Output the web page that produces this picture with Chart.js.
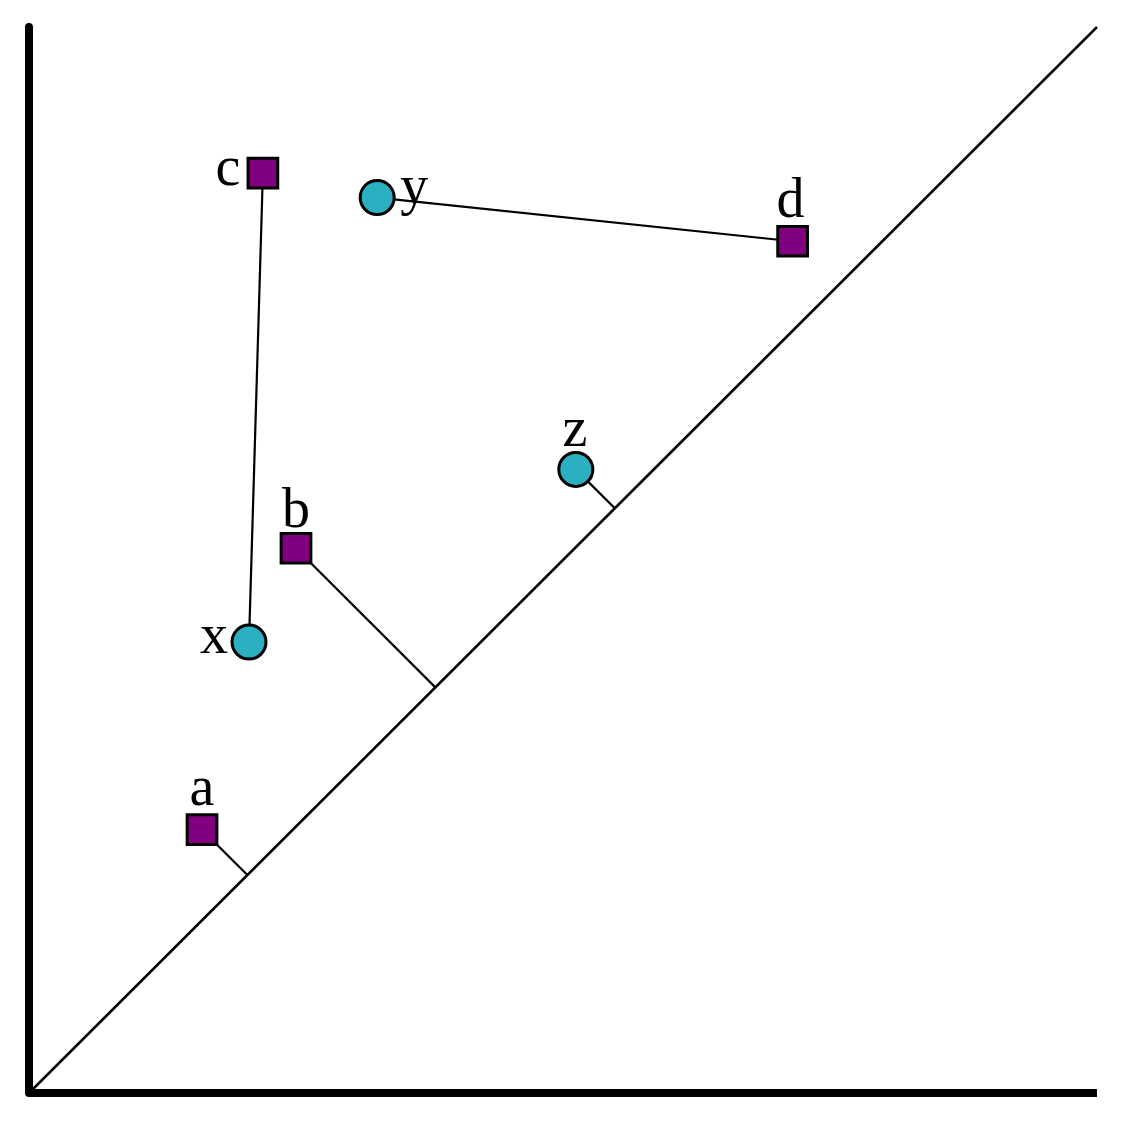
<!DOCTYPE html>
<html>
<head>
<meta charset="utf-8">
<script src="https://cdn.jsdelivr.net/npm/chart.js@4"></script>
<style>
  html, body { margin: 0; padding: 0; background: #fff; }
  #wrap { width: 1123px; height: 1122px; }
</style>
</head>
<body>
<div id="wrap"><canvas id="graph1"></canvas></div>
<script>
// points (data units 0..100 on both axes)
const squareNames = ['a', 'b', 'c', 'd'];
const squareX = [16.2, 25.0, 21.9, 71.5];
const squareY = [24.7, 51.1, 86.3, 79.9];

const circleNames = ['x', 'y', 'z'];
const circleX = [20.6, 32.6, 51.2];
const circleY = [42.3, 84.0, 58.5];

// diagonal y = x
const diagX = [0, 100];
const diagY = [0, 100];

// segments between points, and points dropped onto the diagonal
const links = [['c', 'x'], ['y', 'd']];
const projected = ['a', 'b', 'z'];

// label offsets in px (dx, baseline dy) -- style only
const labelOffset = {
    a: [0, -25], b: [0, -21], c: [-35, 12], d: [-2, -24],
    x: [-35, 11], y: [37, 6], z: [-1, -23]
};

const pts = {};
squareNames.forEach((n, i) => pts[n] = { x: squareX[i], y: squareY[i] });
circleNames.forEach((n, i) => pts[n] = { x: circleX[i], y: circleY[i] });

function foot(p) {
    const t = (p.x + p.y) / 2;
    return { x: t, y: t };
}

function segment(data, width) {
    return {
        type: 'line',
        data: data,
        borderColor: '#000',
        borderWidth: width,
        pointRadius: 0,
        fill: false,
        clip: false,
        order: 5
    };
}

const datasets = [];

// axes
datasets.push({
    type: 'line',
    data: [{ x: 0, y: 100 }, { x: 0, y: 0 }, { x: 100, y: 0 }],
    borderColor: '#000',
    borderWidth: 8,
    borderJoinStyle: 'round',
    pointRadius: 0,
    fill: false,
    clip: false,
    order: 10
});

datasets.push(segment(diagX.map((v, i) => ({ x: v, y: diagY[i] })), 2.5));

links.forEach(l => datasets.push(segment([pts[l[0]], pts[l[1]]], 2.2)));
projected.forEach(n => datasets.push(segment([pts[n], foot(pts[n])], 2.2)));

datasets.push({
    type: 'scatter',
    data: squareNames.map(n => pts[n]),
    pointStyle: 'rect',
    pointRadius: 21,
    backgroundColor: '#800080',
    borderColor: '#000',
    borderWidth: 3,
    clip: false,
    order: 1
});

datasets.push({
    type: 'scatter',
    data: circleNames.map(n => pts[n]),
    pointStyle: 'circle',
    pointRadius: 17,
    backgroundColor: '#2bb0c2',
    borderColor: '#000',
    borderWidth: 3,
    clip: false,
    order: 1
});

const labelPlugin = {
    id: 'pointLabels',
    afterDatasetsDraw(chart) {
        const ctx = chart.ctx;
        const xs = chart.scales.x, ys = chart.scales.y;
        ctx.save();
        ctx.font = '56px "Liberation Serif", "Times New Roman", serif';
        ctx.fillStyle = '#000';
        ctx.textAlign = 'center';
        ctx.textBaseline = 'alphabetic';
        Object.keys(labelOffset).forEach(n => {
            const p = pts[n];
            const o = labelOffset[n];
            ctx.fillText(n, xs.getPixelForValue(p.x) + o[0], ys.getPixelForValue(p.y) + o[1]);
        });
        ctx.restore();
    }
};

const config = {
    type: 'scatter',
    data: { datasets: datasets },
    options: {
        responsive: true,
        maintainAspectRatio: false,
        animation: false,
        layout: {
            padding: { left: 29, right: 26, top: 27, bottom: 29 }
        },
        scales: {
            x: { type: 'linear', min: 0, max: 100, display: false },
            y: { type: 'linear', min: 0, max: 100, display: false }
        },
        plugins: {
            legend: { display: false },
            tooltip: { enabled: false }
        }
    },
    plugins: [labelPlugin]
};

const myChart = new Chart(document.getElementById('graph1'), config);
</script>
</body>
</html>
